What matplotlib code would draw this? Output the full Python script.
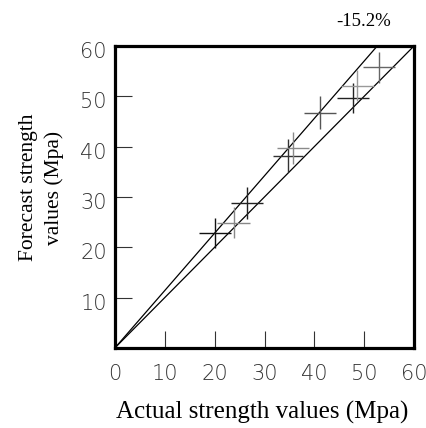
import matplotlib
matplotlib.use("Agg")
import matplotlib.pyplot as plt
import numpy as np

# measured points (actual, forecast) with their spread
actual = [20.0, 23.8, 26.5, 34.7, 35.7, 41.1, 47.8, 48.6, 53.0]
forecast = [22.9, 24.9, 28.8, 38.2, 39.7, 46.7, 49.6, 52.1, 55.7]
x_err = [3.2, 3.3, 3.2, 3.1, 3.2, 3.2, 3.2, 3.3, 3.2]
y_err = [3.0, 3.1, 3.2, 3.2, 3.1, 3.3, 3.0, 3.1, 3.0]
shade = ["#111111", "#888888", "#222222", "#333333", "#8a8a8a",
         "#555555", "#222222", "#999999", "#666666"]

ref_line = [0, 60]          # y = x
dev_slope = 1.14            # -15.2 % deviation line
ticks = [10, 20, 30, 40, 50]
tick_labels_x = [0, 10, 20, 30, 40, 50, 60]
tick_labels_y = [10, 20, 30, 40, 50, 60]

fig = plt.figure(figsize=(4.27, 4.28), dpi=100)
ax = fig.add_axes([0.269, 0.187, 0.701, 0.706])

ax.plot(ref_line, ref_line, color="black", lw=0.9)
xd = np.array([0, 60 / dev_slope])
ax.plot(xd, xd * dev_slope, color="black", lw=0.9)

for xa, yf, ex, ey, c in zip(actual, forecast, x_err, y_err, shade):
    ax.errorbar(xa, yf, xerr=ex, yerr=ey, fmt="none", ecolor=c,
                elinewidth=1.0, capsize=0)

ax.set_xlim(0, 60)
ax.set_ylim(0, 60)
ax.set_xticks(ticks)
ax.set_yticks(ticks)
ax.set_xticklabels([])
ax.set_yticklabels([])
ax.tick_params(direction="in", length=12, width=0.8, color="#333333")
for s in ax.spines.values():
    s.set_linewidth(2.3)

# tick labels drawn separately (also at 0 and 60)
tick_font = dict(fontsize=15, color="#333333", fontweight="light",
                 family="DejaVu Sans", clip_on=False)
for v in tick_labels_x:
    ax.text(v, -5.2, str(v), ha="center", va="center", **tick_font)
for v in tick_labels_y:
    ax.text(-1.6, v - 1.2, str(v), ha="right", va="center", **tick_font)

serif = ["Liberation Serif", "DejaVu Serif"]
ax.text(49.9, 64.8, "-15.2%", ha="center", va="center", fontsize=13.5,
        family=serif, clip_on=False)
fig.text(0.615, 0.037, "Actual strength values (Mpa)", ha="center",
         va="center", fontsize=18, family=serif)
fig.text(0.097, 0.562, "Forecast strength\nvalues (Mpa)", ha="center",
         va="center", rotation=90, fontsize=15.5, family=serif,
         linespacing=1.45)

fig.savefig("out.png", dpi=100)
